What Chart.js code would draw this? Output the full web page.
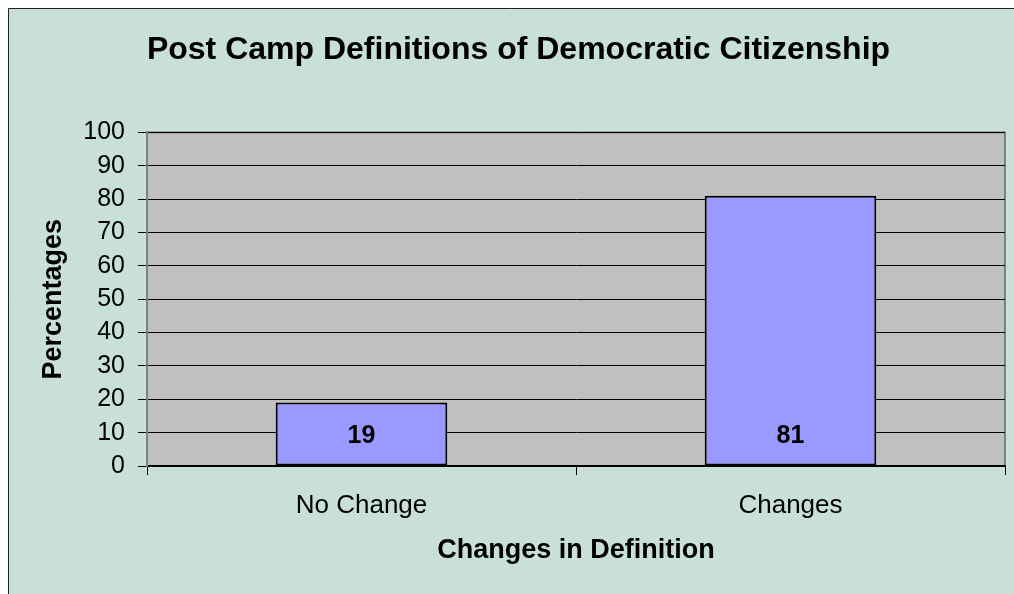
<!DOCTYPE html>
<html>
<head>
<meta charset="utf-8">
<title>Post Camp Definitions of Democratic Citizenship</title>
<script src="https://cdn.jsdelivr.net/npm/chart.js@4"></script>
<style>
    html, body { margin: 0; padding: 0; background: #ffffff; }
    #wrap { position: relative; width: 1014px; height: 594px; }
</style>
</head>
<body>
<div id="wrap"><canvas id="chart" width="1014" height="594"></canvas></div>
<script>
const categories = ['No Change', 'Changes'];
const percentages = [19, 81];
const yTicks = [0, 10, 20, 30, 40, 50, 60, 70, 80, 90, 100];

const FONT = 'Arial, "Liberation Sans", sans-serif';

// frame + grey plot area behind everything
const backgroundPlugin = {
    id: 'background',
    beforeDraw(chart) {
        const { ctx, chartArea } = chart;
        ctx.save();
        ctx.fillStyle = '#ffffff';
        ctx.fillRect(0, 0, chart.width, chart.height);
        ctx.fillStyle = '#c8e0d8';
        ctx.fillRect(8, 8, chart.width, chart.height);
        ctx.strokeStyle = '#222222';
        ctx.lineWidth = 1;
        ctx.beginPath();
        ctx.moveTo(8.5, chart.height);
        ctx.lineTo(8.5, 8.5);
        ctx.lineTo(chart.width, 8.5);
        ctx.stroke();

        ctx.fillStyle = '#c0c0c0';
        ctx.fillRect(chartArea.left, chartArea.top, chartArea.right - chartArea.left, chartArea.bottom - chartArea.top);
        ctx.strokeStyle = '#808080';
        ctx.lineWidth = 2;
        ctx.strokeRect(chartArea.left, chartArea.top, chartArea.right - chartArea.left, chartArea.bottom - chartArea.top);
        ctx.restore();
    }
};

// value printed near the foot of each bar
const barLabelPlugin = {
    id: 'barLabels',
    afterDatasetsDraw(chart) {
        const { ctx } = chart;
        const meta = chart.getDatasetMeta(0);
        ctx.save();
        ctx.font = 'bold 25px ' + FONT;
        ctx.fillStyle = '#000000';
        ctx.textAlign = 'center';
        ctx.textBaseline = 'middle';
        meta.data.forEach((bar, i) => {
            ctx.fillText(String(percentages[i]), bar.x, bar.base - 29);
        });
        ctx.restore();
    }
};

const chart = new Chart(document.getElementById('chart').getContext('2d'), {
    type: 'bar',
    data: {
        labels: categories,
        datasets: [{
            data: percentages,
            backgroundColor: '#9999ff',
            borderColor: '#000000',
            borderWidth: 2,
            borderSkipped: false,
            categoryPercentage: 1.0,
            barPercentage: 0.4,
        }]
    },
    options: {
        responsive: false,
        animation: false,
        // left padding shifts the centred title to match the original
        layout: { padding: { left: 32, right: 9, top: 0, bottom: 0 } },
        plugins: {
            legend: { display: false },
            tooltip: { enabled: false },
            title: {
                display: true,
                text: 'Post Camp Definitions of Democratic Citizenship',
                color: '#000000',
                font: { family: FONT, size: 32, weight: 'bold' },
                padding: { top: 31, bottom: 63 },
            },
        },
        scales: {
            x: {
                grid: {
                    display: true,
                    drawOnChartArea: false,
                    color: '#000000',
                    tickLength: 9,
                },
                border: { color: '#000000', width: 2 },
                ticks: {
                    color: '#000000',
                    font: { family: FONT, size: 26 },
                    padding: 15,
                },
                title: {
                    display: true,
                    text: 'Changes in Definition',
                    color: '#000000',
                    font: { family: FONT, size: 27, weight: 'bold' },
                    padding: { top: 0, bottom: 27 },
                },
                afterFit(scale) {
                    scale.height = 128;
                },
            },
            y: {
                min: 0,
                max: 100,
                afterBuildTicks(scale) {
                    scale.ticks = yTicks.map(v => ({ value: v }));
                },
                grid: {
                    color: '#000000',
                    lineWidth: 1,
                    tickLength: 9,
                },
                border: { color: '#808080', width: 2 },
                ticks: {
                    color: '#000000',
                    font: { family: FONT, size: 25 },
                    padding: 13,
                },
                title: {
                    display: true,
                    text: 'Percentages',
                    color: '#000000',
                    font: { family: FONT, size: 27, weight: 'bold' },
                    padding: { top: 5, bottom: 0 },
                },
                afterFit(scale) {
                    scale.width = 115;
                },
            },
        },
    },
    plugins: [backgroundPlugin, barLabelPlugin],
});
</script>
</body>
</html>
